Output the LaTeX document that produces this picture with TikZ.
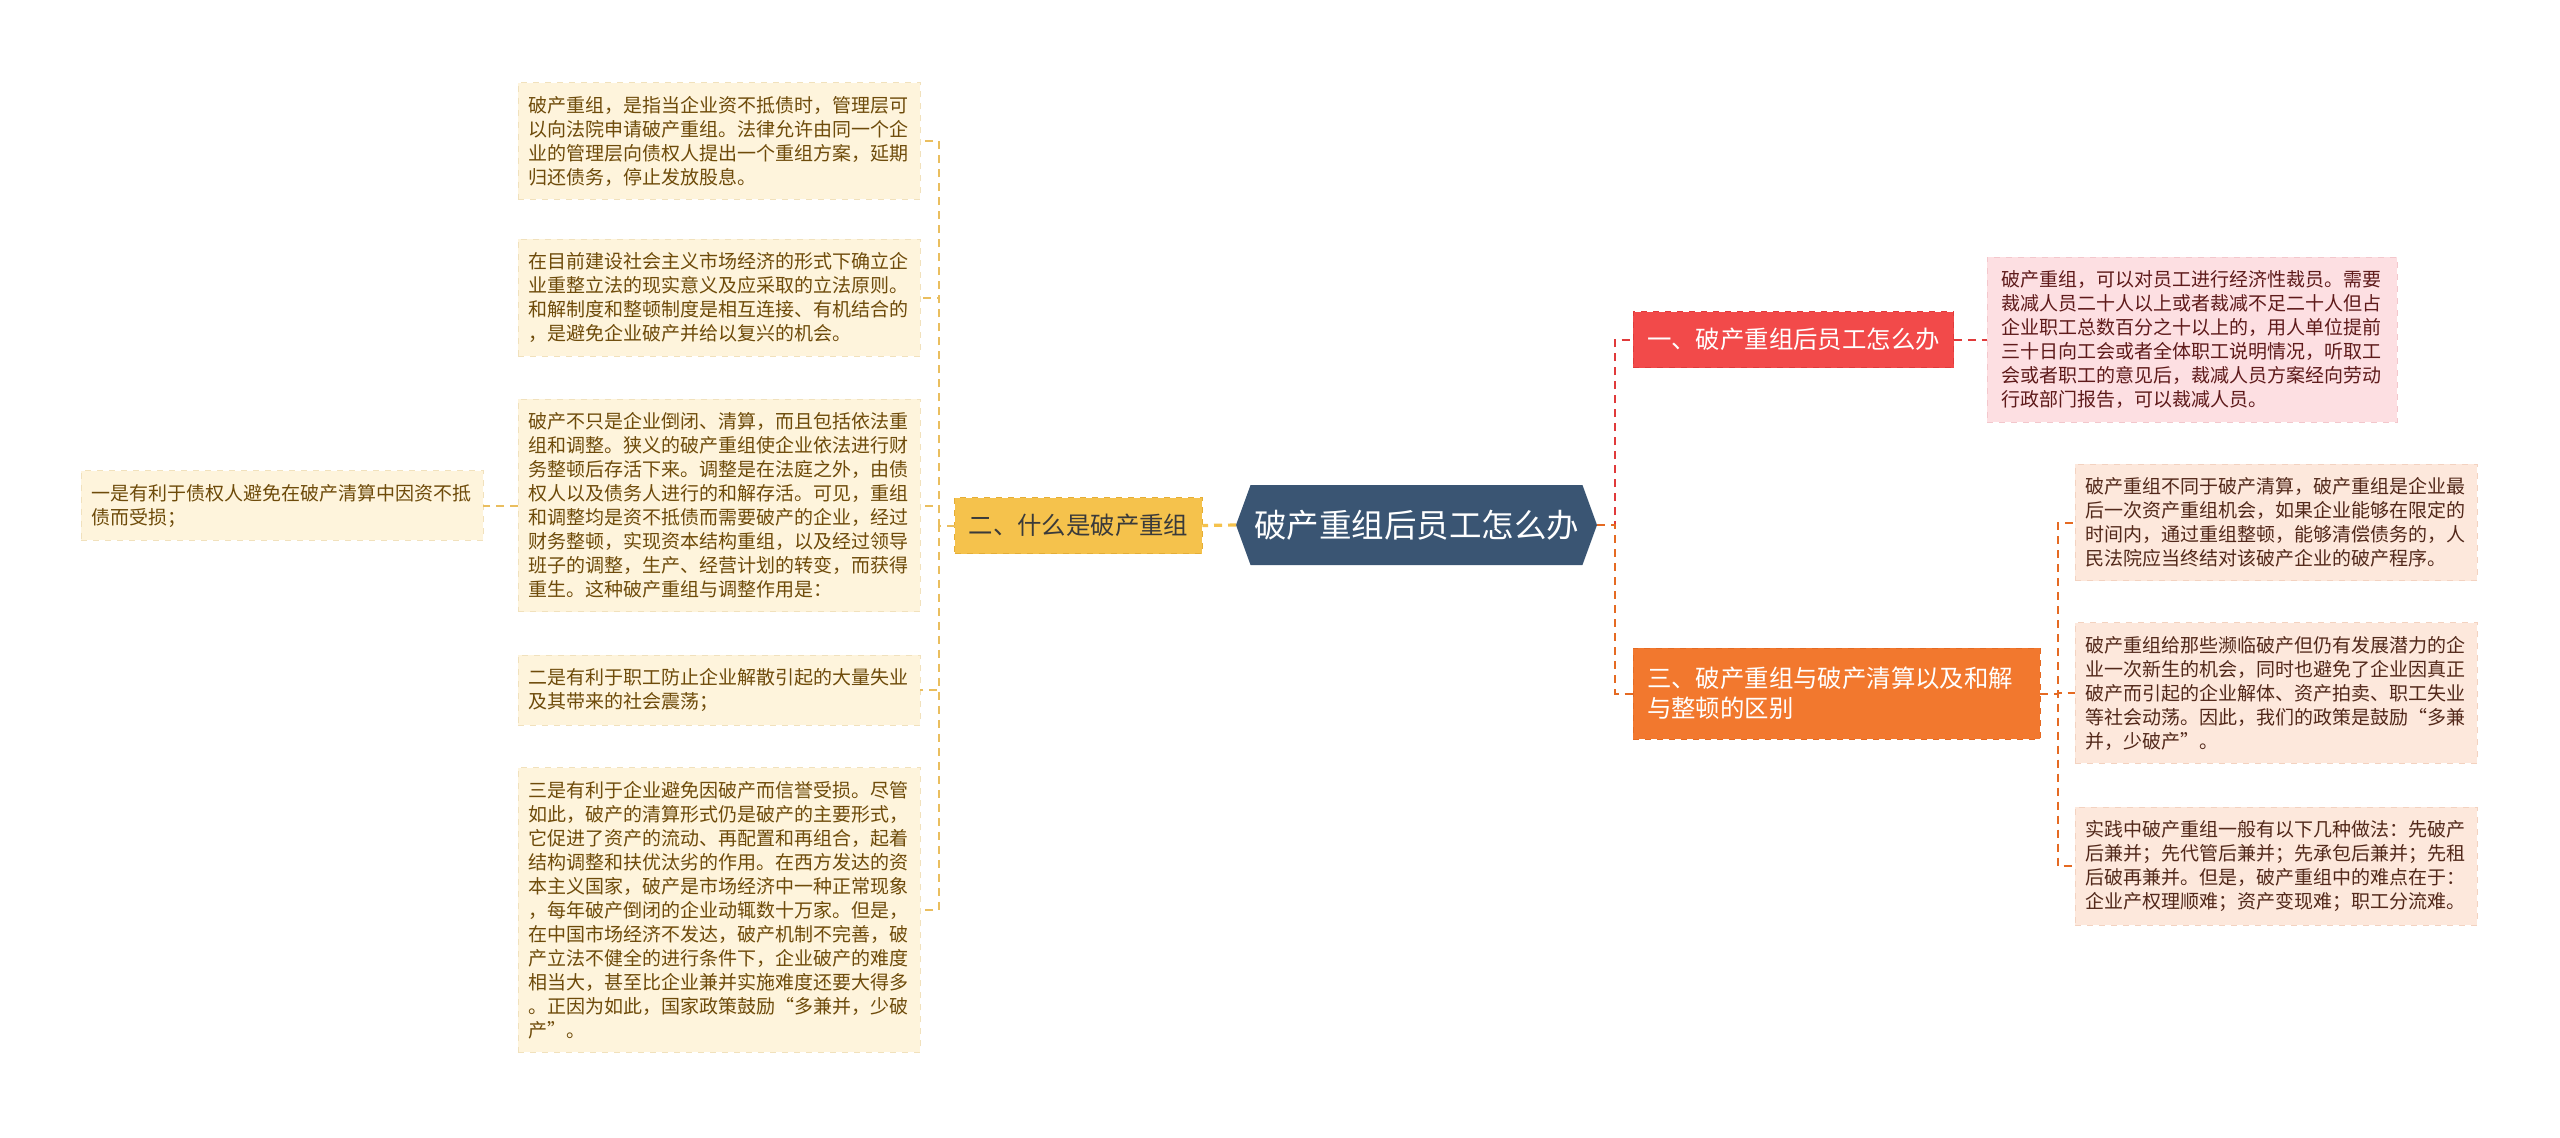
\documentclass[tikz,border=0pt]{standalone}
\usepackage{fontspec}
\setmainfont{Noto Sans CJK SC}
\usetikzlibrary{shapes.symbols}
\definecolor{rootblue}{HTML}{3A5573}
\definecolor{yelfill}{HTML}{F5C24C}
\definecolor{yelline}{HTML}{E5AE36}
\definecolor{redfill}{HTML}{F24A4A}
\definecolor{redline}{HTML}{E03A3A}
\definecolor{orfill}{HTML}{F2782E}
\definecolor{orline}{HTML}{E56A22}
\definecolor{cream}{HTML}{FEF4DC}
\definecolor{creamline}{HTML}{F1E1BC}
\definecolor{olivebrown}{HTML}{6E4B0A}
\definecolor{pinkfill}{HTML}{FDDFE2}
\definecolor{pinkline}{HTML}{F3C7CC}
\definecolor{pinktext}{HTML}{5E1A1A}
\definecolor{peachfill}{HTML}{FDE8DC}
\definecolor{peachline}{HTML}{F3D2C0}
\definecolor{peachtext}{HTML}{52281A}
\definecolor{darktext}{HTML}{3A3A3A}
\begin{document}
\begin{tikzpicture}[
    x=0.5pt, y=-0.5pt,
    every node/.style={inner sep=0pt, outer sep=0pt},
    root/.style={shape=signal, signal to=west and east, signal pointer angle=140,
        fill=rootblue, text=white, font=\fontsize{16.25}{18}\selectfont,
        minimum width=180.5pt, minimum height=40pt},
    branch/.style={draw, dashed, line width=0.5pt, inner xsep=7pt,
        font=\fontsize{12.2}{15}\selectfont, minimum height=28pt},
    leaf/.style={draw, dashed, line width=0.4pt, align=left, text width=191pt,
        inner xsep=5pt, inner ysep=6.7pt, font=\fontsize{9.5}{12}\selectfont},
    yleaf/.style={leaf, fill=cream, draw=creamline, text=olivebrown},
    pleaf/.style={leaf, fill=pinkfill, draw=pinkline, text=pinktext},
    oleaf/.style={leaf, fill=peachfill, draw=peachline, text=peachtext},
    link/.style={line width=1pt, dash pattern=on 4pt off 3pt}
]
\fill[white] (0,0) rectangle (2560,1137);

% centre and the three branches
\node[root] (root) at (1416.5,525) {破产重组后员工怎么办};
\node[branch, fill=yelfill, draw=yelline, text=darktext] (q2) at (1078.5,525.5) {二、什么是破产重组};
\node[branch, fill=redfill, draw=redline, text=white] (q1) at (1793.5,339.5) {一、破产重组后员工怎么办};
\node[branch, fill=orfill, draw=orline, text=white, align=left, text width=189.5pt,
    minimum height=45.5pt] (q3) at (1836.5,693.5) {三、破产重组与破产清算以及和解\\与整顿的区别};

% left side
\node[yleaf, anchor=east] (q2a) at (920,141) {破产重组，是指当企业资不抵债时，管理层可\\以向法院申请破产重组。法律允许由同一个企\\业的管理层向债权人提出一个重组方案，延期\\归还债务，停止发放股息。};
\node[yleaf, anchor=east] (q2b) at (920,297.5) {在目前建设社会主义市场经济的形式下确立企\\业重整立法的现实意义及应采取的立法原则。\\和解制度和整顿制度是相互连接、有机结合的\\，是避免企业破产并给以复兴的机会。};
\node[yleaf, anchor=east] (q2c) at (920,505.5) {破产不只是企业倒闭、清算，而且包括依法重\\组和调整。狭义的破产重组使企业依法进行财\\务整顿后存活下来。调整是在法庭之外，由债\\权人以及债务人进行的和解存活。可见，重组\\和调整均是资不抵债而需要破产的企业，经过\\财务整顿，实现资本结构重组，以及经过领导\\班子的调整，生产、经营计划的转变，而获得\\重生。这种破产重组与调整作用是：};
\node[yleaf, anchor=east] (q2d) at (920,690) {二是有利于职工防止企业解散引起的大量失业\\及其带来的社会震荡；};
\node[yleaf, anchor=east] (q2e) at (920,910) {三是有利于企业避免因破产而信誉受损。尽管\\如此，破产的清算形式仍是破产的主要形式，\\它促进了资产的流动、再配置和再组合，起着\\结构调整和扶优汰劣的作用。在西方发达的资\\本主义国家，破产是市场经济中一种正常现象\\，每年破产倒闭的企业动辄数十万家。但是，\\在中国市场经济不发达，破产机制不完善，破\\产立法不健全的进行条件下，企业破产的难度\\相当大，甚至比企业兼并实施难度还要大得多\\。正因为如此，国家政策鼓励“多兼并，少破\\产”。};
\node[yleaf, anchor=east] (q2f) at (483,505.5) {一是有利于债权人避免在破产清算中因资不抵\\债而受损；};

% right side
\node[pleaf, anchor=west, inner xsep=7pt] (q1a) at (1987,339.5) {破产重组，可以对员工进行经济性裁员。需要\\裁减人员二十人以上或者裁减不足二十人但占\\企业职工总数百分之十以上的，用人单位提前\\三十日向工会或者全体职工说明情况，听取工\\会或者职工的意见后，裁减人员方案经向劳动\\行政部门报告，可以裁减人员。};
\node[oleaf, anchor=west] (q3a) at (2075,522.5) {破产重组不同于破产清算，破产重组是企业最\\后一次资产重组机会，如果企业能够在限定的\\时间内，通过重组整顿，能够清偿债务的，人\\民法院应当终结对该破产企业的破产程序。};
\node[oleaf, anchor=west] (q3b) at (2075,693) {破产重组给那些濒临破产但仍有发展潜力的企\\业一次新生的机会，同时也避免了企业因真正\\破产而引起的企业解体、资产拍卖、职工失业\\等社会动荡。因此，我们的政策是鼓励“多兼\\并，少破产”。};
\node[oleaf, anchor=west] (q3c) at (2075,866) {实践中破产重组一般有以下几种做法：先破产\\后兼并；先代管后兼并；先承包后兼并；先租\\后破再兼并。但是，破产重组中的难点在于：\\企业产权理顺难；资产变现难；职工分流难。};

% connectors
\coordinate (q2hub) at (939,525.5);
\coordinate (rhub) at (1615,525);
\coordinate (q3hub) at (2058,693.5);
\draw[link, draw=yelfill, line width=1.6pt] (root.west) -- (q2.east);
\foreach \n in {q2a,q2b,q2c,q2d,q2e}
    \draw[link, draw=yelline!80] (q2.west) -- (q2hub) |- (\n.east);
\draw[link, draw=yelline!80] (q2c.west) -- (q2f.east);
\draw[link, draw=redline] (root.east) -- (rhub) |- (q1.west);
\draw[link, draw=orline] (root.east) -- (rhub) |- (q3.west);
\draw[link, draw=redline] (q1.east) -- (q1a.west);
\foreach \n in {q3a,q3b,q3c}
    \draw[link, draw=orline] (q3.east) -- (q3hub) |- (\n.west);
\end{tikzpicture}
\end{document}
